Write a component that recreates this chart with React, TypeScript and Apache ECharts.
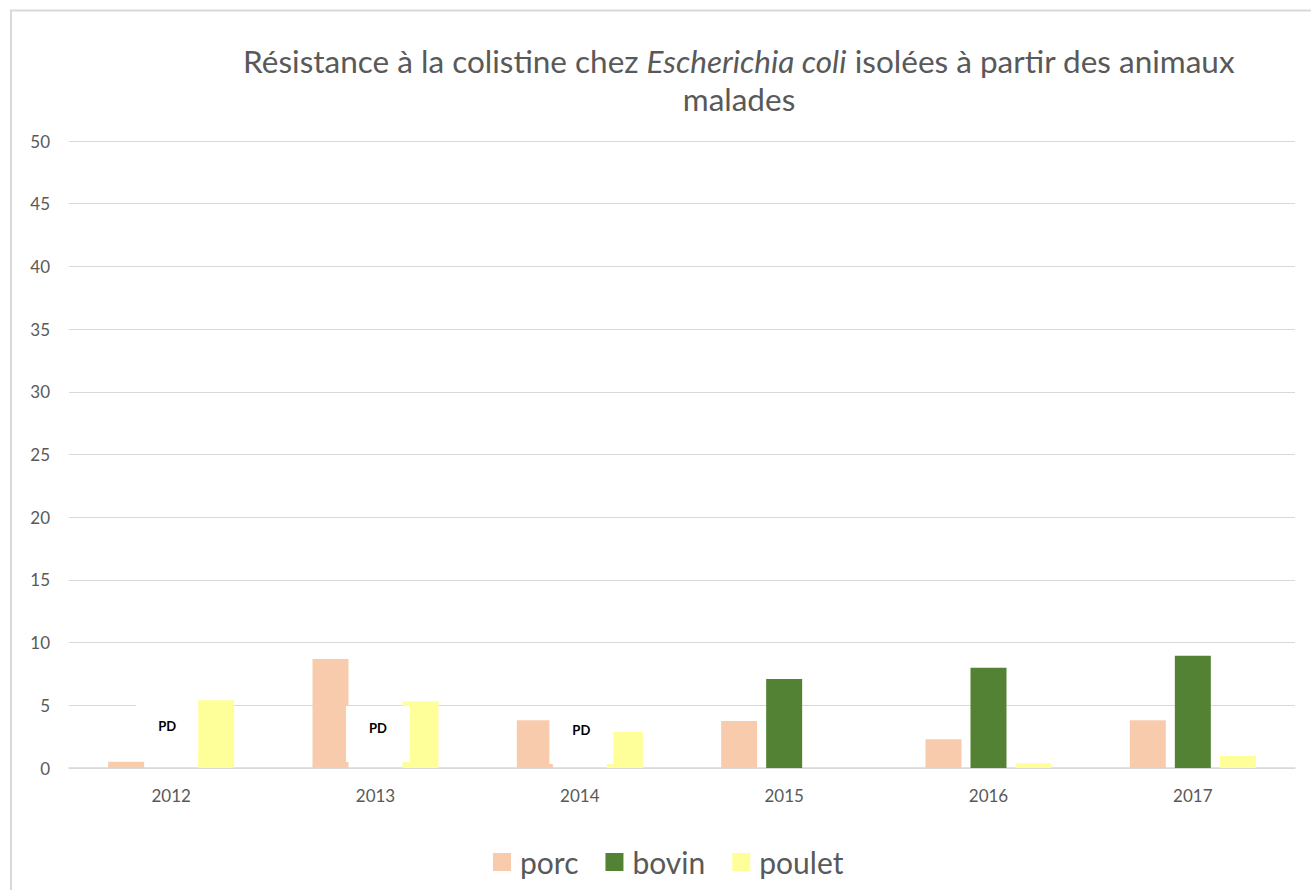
import React, { useEffect, useRef } from "react";
import * as echarts from "echarts";

const years = ["2012", "2013", "2014", "2015", "2016", "2017"];
const porc = [0.5, 8.7, 3.8, 3.75, 2.3, 3.8];
const bovin = [0, 0, 0, 7.1, 8.0, 8.95];
const bovinLabels = ["PD", "PD\n ", "PD\n ", "", "", ""];
const poulet = [5.4, 5.3, 2.9, 0, 0.37, 0.95];

const FONT = "Lato";
const GREY = "#595959";

export default function App() {
  const ref = useRef<HTMLDivElement>(null);
  useEffect(() => {
    document.body.style.margin = "0";
    const chart = echarts.init(ref.current!, null, { renderer: "svg" });
    const labelPos: number[][] = [
      [14, -42],
      [20.5, -34],
      [19.5, -30],
    ];
    const labelLH = [16, 12, 16];
    const labelPad: number[][] = [
      [18, 22, 18, 22],
      [16, 23, 16, 23],
      [10, 23, 10, 23],
    ];
    const bovinData = bovin.map((v, i) => {
      if (bovinLabels[i]) {
        return {
          value: v,
          label: {
            show: true,
            formatter: bovinLabels[i],
            position: labelPos[i],
            align: "center",
            verticalAlign: "middle",
            fontFamily: FONT,
            fontWeight: "bold",
            fontSize: 13,
            lineHeight: labelLH[i],
            color: "#000",
            backgroundColor: "#ffffff",
            padding: labelPad[i],
          },
        };
      }
      return { value: v };
    });
    chart.setOption({
      animation: false,
      backgroundColor: "#ffffff",
      title: {
        left: 734,
        top: 37,
        textAlign: "center",
        text:
          "{a|Résistance à la colistine chez }{b|Escherichia coli}{a| isolées à partir des animaux}\n{a|malades}",
        textStyle: {
          fontWeight: "normal",
          rich: {
            a: { fontSize: 31.5, color: GREY, fontFamily: FONT, fontWeight: "normal", lineHeight: 38 },
            b: {
              fontSize: 31.5,
              color: GREY,
              fontFamily: FONT,
              fontWeight: "normal",
              lineHeight: 38,
              fontStyle: "italic",
            },
          },
        },
      },
      graphic: [
        {
          type: "rect",
          shape: { x: 11, y: 10.5, width: 1400, height: 1000 },
          style: { fill: "none", stroke: "#d9d9d9", lineWidth: 2 },
          silent: true,
        },
      ],
      legend: {
        left: 488,
        top: 842,
        itemWidth: 18,
        itemHeight: 18,
        itemGap: 27,
        icon: "rect",
        textStyle: { fontFamily: FONT, fontSize: 30, color: GREY, padding: [0, 0, 0, 4] },
        data: ["porc", "bovin", "poulet"],
      },
      grid: { left: 69, right: 16, top: 141, bottom: 122, containLabel: false },
      xAxis: {
        type: "category",
        data: years,
        axisTick: { show: false },
        axisLine: { lineStyle: { color: "#d9d9d9", width: 1.5 } },
        axisLabel: { fontFamily: FONT, fontSize: 17, color: GREY, margin: 19 },
      },
      yAxis: {
        type: "value",
        min: 0,
        max: 50,
        interval: 5,
        axisLine: { show: false },
        axisTick: { show: false },
        splitLine: { lineStyle: { color: "#d9d9d9", width: 1 } },
        axisLabel: { fontFamily: FONT, fontSize: 17, color: GREY, margin: 19 },
      },
      series: [
        {
          name: "porc",
          type: "bar",
          data: porc,
          barWidth: 36,
          barGap: "25%",
          itemStyle: { color: "#F8CBAD" },
        },
        {
          name: "bovin",
          type: "bar",
          data: bovinData,
          barWidth: 36,
          barGap: "25%",
          itemStyle: { color: "#548235" },
        },
        {
          name: "poulet",
          type: "bar",
          data: poulet,
          barWidth: 36,
          barGap: "25%",
          itemStyle: { color: "#FFFF99" },
        },
      ],
    });
    return () => chart.dispose();
  }, []);
  return <div ref={ref} style={{ width: 1311, height: 890 }} />;
}
